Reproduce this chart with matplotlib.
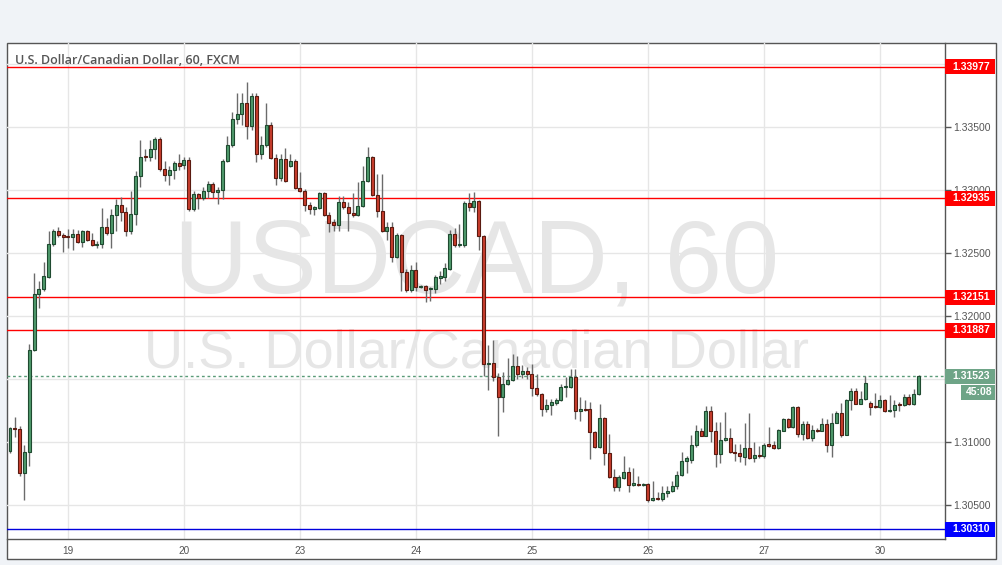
import numpy as np
import matplotlib
matplotlib.use("Agg")
import matplotlib.pyplot as plt
import matplotlib.transforms as mtransforms
from matplotlib.patches import Rectangle

# hourly candles USD/CAD (FXCM, 60)
opens = [1.30928, 1.31110, 1.31105, 1.30754, 1.30921, 1.31733, 1.32176, 1.32212, 1.32313, 1.32573,
         1.32676, 1.32644, 1.32630, 1.32628, 1.32652, 1.32586, 1.32676, 1.32605, 1.32565, 1.32573,
         1.32710, 1.32657, 1.32800, 1.32884, 1.32823, 1.32678, 1.32811, 1.33109, 1.33263, 1.33259,
         1.33326, 1.33405, 1.33167, 1.33120, 1.33159, 1.33215, 1.33199, 1.33241, 1.32850, 1.32969,
         1.32934, 1.32995, 1.33048, 1.32982, 1.33001, 1.33233, 1.33358, 1.33564, 1.33603, 1.33691,
         1.33505, 1.33749, 1.33286, 1.33358, 1.33516, 1.33255, 1.33096, 1.33247, 1.33191, 1.33233,
         1.33017, 1.32995, 1.32882, 1.32850, 1.32858, 1.32974, 1.32803, 1.32744, 1.32723, 1.32908,
         1.32863, 1.32818, 1.32803, 1.32876, 1.33075, 1.33265, 1.32961, 1.32831, 1.32673, 1.32710,
         1.32466, 1.32646, 1.32353, 1.32210, 1.32367, 1.32228, 1.32239, 1.32212, 1.32212, 1.32303,
         1.32308, 1.32374, 1.32652, 1.32565, 1.32565, 1.32898, 1.32863, 1.32916, 1.32638, 1.31621,
         1.31631, 1.31515, 1.31356, 1.31463, 1.31495, 1.31608, 1.31542, 1.31568, 1.31542, 1.31431,
         1.31383, 1.31264, 1.31296, 1.31312, 1.31336, 1.31436, 1.31436, 1.31515, 1.31245, 1.31264,
         1.31264, 1.31079, 1.30960, 1.31193, 1.30912, 1.30722, 1.30643, 1.30714, 1.30767, 1.30662,
         1.30669, 1.30662, 1.30669, 1.30543, 1.30555, 1.30548, 1.30598, 1.30611, 1.30650, 1.30741,
         1.30854, 1.30862, 1.30981, 1.31092, 1.31052, 1.31251, 1.31092, 1.30907, 1.31018, 1.31034,
         1.30926, 1.30915, 1.30880, 1.30955, 1.30875, 1.30902, 1.30888, 1.30986, 1.30979, 1.30952,
         1.31092, 1.31185, 1.31118, 1.31283, 1.31068, 1.31147, 1.31031, 1.31100, 1.31092, 1.31147,
         1.30981, 1.31155, 1.31230, 1.31060, 1.31338, 1.31409, 1.31307, 1.31344, 1.31312, 1.31285,
         1.31277, 1.31336, 1.31245, 1.31256, 1.31304, 1.31296, 1.31362, 1.31304, 1.31383]

highs = [1.31124, 1.31203, 1.31129, 1.30981, 1.31780, 1.32340, 1.32282, 1.32432, 1.32678, 1.32694,
         1.32710, 1.32662, 1.32691, 1.32691, 1.32683, 1.32683, 1.32683, 1.32660, 1.32597, 1.32855,
         1.32779, 1.32850, 1.32929, 1.32948, 1.32868, 1.32995, 1.33154, 1.33400, 1.33326, 1.33397,
         1.33418, 1.33418, 1.33233, 1.33194, 1.33233, 1.33286, 1.33259, 1.33265, 1.32995, 1.32977,
         1.33027, 1.33075, 1.33061, 1.33021, 1.33247, 1.33432, 1.33616, 1.33767, 1.33767, 1.33860,
         1.33767, 1.33767, 1.33432, 1.33688, 1.33542, 1.33286, 1.33286, 1.33334, 1.33286, 1.33247,
         1.33140, 1.33009, 1.32903, 1.32876, 1.32982, 1.32982, 1.32823, 1.32771, 1.32956, 1.32956,
         1.32908, 1.32974, 1.33061, 1.33194, 1.33339, 1.33273, 1.33128, 1.33128, 1.32744, 1.32744,
         1.32660, 1.32652, 1.32374, 1.32409, 1.32427, 1.32246, 1.32247, 1.32234, 1.32327, 1.32361,
         1.32422, 1.32683, 1.32700, 1.32731, 1.32916, 1.32974, 1.32982, 1.32922, 1.32646, 1.31774,
         1.31811, 1.31549, 1.31555, 1.31667, 1.31703, 1.31687, 1.31616, 1.31594, 1.31620, 1.31542,
         1.31393, 1.31344, 1.31344, 1.31354, 1.31463, 1.31515, 1.31582, 1.31582, 1.31356, 1.31338,
         1.31317, 1.31088, 1.31304, 1.31199, 1.31068, 1.30788, 1.30741, 1.30894, 1.30806, 1.30800,
         1.30735, 1.30680, 1.30676, 1.30696, 1.30603, 1.30650, 1.30650, 1.30696, 1.30775, 1.30926,
         1.30894, 1.31060, 1.31140, 1.31114, 1.31290, 1.31290, 1.31163, 1.31163, 1.31243, 1.31110,
         1.30987, 1.30987, 1.31150, 1.31229, 1.31005, 1.30973, 1.30997, 1.31124, 1.31013, 1.31108,
         1.31193, 1.31191, 1.31290, 1.31290, 1.31171, 1.31171, 1.31140, 1.31116, 1.31195, 1.31187,
         1.31235, 1.31251, 1.31312, 1.31344, 1.31430, 1.31430, 1.31409, 1.31528, 1.31325, 1.31391,
         1.31378, 1.31346, 1.31375, 1.31338, 1.31322, 1.31383, 1.31383, 1.31423, 1.31530]

lows = [1.30913, 1.31039, 1.30733, 1.30543, 1.30815, 1.31727, 1.32062, 1.32202, 1.32300, 1.32554,
        1.32625, 1.32506, 1.32538, 1.32525, 1.32578, 1.32546, 1.32599, 1.32559, 1.32538, 1.32538,
        1.32641, 1.32538, 1.32673, 1.32752, 1.32633, 1.32652, 1.32726, 1.33021, 1.33233, 1.33228,
        1.33247, 1.33154, 1.33075, 1.33041, 1.33088, 1.33159, 1.33167, 1.32837, 1.32834, 1.32850,
        1.32924, 1.32934, 1.32934, 1.32894, 1.32929, 1.33225, 1.33344, 1.33524, 1.33516, 1.33405,
        1.33480, 1.33225, 1.33247, 1.33344, 1.33249, 1.33043, 1.33069, 1.33063, 1.33186, 1.33011,
        1.32982, 1.32837, 1.32811, 1.32803, 1.32853, 1.32797, 1.32665, 1.32678, 1.32678, 1.32853,
        1.32673, 1.32789, 1.32797, 1.32868, 1.33067, 1.32956, 1.32784, 1.32670, 1.32607, 1.32427,
        1.32460, 1.32198, 1.32190, 1.32194, 1.32202, 1.32222, 1.32110, 1.32118, 1.32181, 1.32255,
        1.32276, 1.32369, 1.32551, 1.32551, 1.32551, 1.32831, 1.32829, 1.32528, 1.31528, 1.31415,
        1.31489, 1.31047, 1.31237, 1.31457, 1.31489, 1.31502, 1.31507, 1.31502, 1.31370, 1.31370,
        1.31211, 1.31237, 1.31219, 1.31298, 1.31330, 1.31362, 1.31433, 1.31185, 1.31166, 1.31251,
        1.30868, 1.30953, 1.30953, 1.30820, 1.30715, 1.30616, 1.30616, 1.30708, 1.30603, 1.30656,
        1.30656, 1.30656, 1.30529, 1.30537, 1.30541, 1.30537, 1.30569, 1.30604, 1.30628, 1.30735,
        1.30759, 1.30838, 1.30965, 1.31047, 1.31047, 1.31005, 1.30801, 1.30838, 1.31013, 1.30914,
        1.30854, 1.30846, 1.30820, 1.30870, 1.30846, 1.30876, 1.30876, 1.30960, 1.30945, 1.30945,
        1.31092, 1.31112, 1.31112, 1.31039, 1.31018, 1.31025, 1.31013, 1.31084, 1.31092, 1.30920,
        1.30880, 1.31151, 1.31044, 1.31060, 1.31258, 1.31302, 1.31302, 1.31338, 1.31216, 1.31271,
        1.31271, 1.31239, 1.31239, 1.31203, 1.31251, 1.31290, 1.31298, 1.31298, 1.31378]

closes = [1.31110, 1.31102, 1.30754, 1.30926, 1.31733, 1.32176, 1.32216, 1.32319, 1.32573, 1.32676,
          1.32644, 1.32628, 1.32628, 1.32652, 1.32586, 1.32676, 1.32605, 1.32562, 1.32573, 1.32710,
          1.32657, 1.32805, 1.32884, 1.32823, 1.32678, 1.32811, 1.33114, 1.33259, 1.33259, 1.33326,
          1.33405, 1.33167, 1.33120, 1.33159, 1.33215, 1.33194, 1.33241, 1.32850, 1.32969, 1.32934,
          1.32995, 1.33048, 1.32982, 1.33001, 1.33233, 1.33358, 1.33564, 1.33603, 1.33691, 1.33505,
          1.33749, 1.33286, 1.33358, 1.33516, 1.33255, 1.33096, 1.33247, 1.33069, 1.33233, 1.33017,
          1.32990, 1.32882, 1.32850, 1.32863, 1.32974, 1.32803, 1.32739, 1.32723, 1.32908, 1.32863,
          1.32818, 1.32803, 1.32876, 1.33075, 1.33265, 1.32961, 1.32831, 1.32678, 1.32710, 1.32466,
          1.32646, 1.32349, 1.32210, 1.32367, 1.32228, 1.32239, 1.32210, 1.32220, 1.32308, 1.32316,
          1.32379, 1.32652, 1.32565, 1.32573, 1.32898, 1.32863, 1.32916, 1.32638, 1.31621, 1.31631,
          1.31517, 1.31356, 1.31463, 1.31495, 1.31608, 1.31542, 1.31568, 1.31542, 1.31431, 1.31383,
          1.31264, 1.31296, 1.31317, 1.31338, 1.31441, 1.31441, 1.31515, 1.31245, 1.31264, 1.31259,
          1.31079, 1.30960, 1.31193, 1.30912, 1.30722, 1.30643, 1.30722, 1.30767, 1.30662, 1.30674,
          1.30662, 1.30669, 1.30543, 1.30555, 1.30548, 1.30598, 1.30616, 1.30656, 1.30741, 1.30854,
          1.30872, 1.30981, 1.31092, 1.31052, 1.31251, 1.31092, 1.30907, 1.31021, 1.31034, 1.30920,
          1.30913, 1.30888, 1.30955, 1.30875, 1.30899, 1.30888, 1.30981, 1.30973, 1.30952, 1.31100,
          1.31185, 1.31118, 1.31283, 1.31068, 1.31147, 1.31031, 1.31100, 1.31092, 1.31147, 1.30981,
          1.31155, 1.31230, 1.31060, 1.31338, 1.31409, 1.31307, 1.31344, 1.31471, 1.31283, 1.31277,
          1.31336, 1.31245, 1.31259, 1.31298, 1.31296, 1.31362, 1.31304, 1.31383, 1.31523]

# day labels and the candle they fall on
day_labels = ["19", "20", "23", "24", "25", "26", "27", "30"]
day_index = [12, 36, 60, 84, 108, 132, 156, 180]

# price scale: grid every 0.005, labels only where not hidden by a tag
grid_prices = [1.305, 1.310, 1.315, 1.320, 1.325, 1.330, 1.335, 1.340]
shown_labels = ["1.30500", "1.31000", "", "1.32000", "1.32500", "1.33000", "1.33500", ""]

# horizontal levels drawn on the chart
red_levels = [1.33977, 1.32935, 1.32151, 1.31887]
blue_level = 1.30310
last_price = 1.31523
countdown = "45:08"

W, H = 1002, 565
fig = plt.figure(figsize=(W / 100, H / 100), dpi=100)
fig.patch.set_facecolor("#f0f3f7")

# outer frame
frame = Rectangle((7 / W, (H - 559) / H), (996 - 7) / W, (559 - 43) / H,
                  transform=fig.transFigure, facecolor="white", edgecolor="#555555",
                  linewidth=1, zorder=-1)
fig.patches.append(frame)

ax = fig.add_axes([7 / W, 26 / H, 938 / W, 496 / H])
ax.patch.set_facecolor("none")

step = 4.833  # px per candle
ax.set_xlim(-3 / step, -3 / step + 938 / step)
ax.set_ylim(1.30233, 1.34167)

o = np.array(opens)
h = np.array(highs)
l = np.array(lows)
c = np.array(closes)
x = np.arange(len(o))
up = c >= o

# watermark
ax.text(476 / W, 1 - 293 / H, "USDCAD, 60", transform=fig.transFigure, ha="center",
        va="baseline", fontsize=74, color="#e6e6e6", family="Liberation Sans", zorder=0)
ax.text(476 / W, 1 - 368 / H, "U.S. Dollar/Canadian Dollar", transform=fig.transFigure,
        ha="center", va="baseline", fontsize=39, color="#e6e6e6", family="Liberation Sans",
        zorder=0)

# candles
ax.vlines(x, l, h, color="#6b6b6b", linewidth=1, zorder=3)
body = np.maximum(np.abs(c - o), 0.00008)
bottom = np.minimum(o, c)
ax.bar(x[up], body[up], bottom=bottom[up], width=0.62, color="#4f9a6c",
       edgecolor="#1f4a30", linewidth=0.8, zorder=4)
ax.bar(x[~up], body[~up], bottom=bottom[~up], width=0.62, color="#c93d2d",
       edgecolor="#5a1a10", linewidth=0.8, zorder=4)

# level lines
for lv in red_levels:
    ax.axhline(lv, color="#ff0000", linewidth=1, zorder=2)
ax.axhline(blue_level, color="#0000dd", linewidth=1, zorder=2)
ax.axhline(last_price, color="#5a9b78", linewidth=1, dashes=(2, 2), zorder=2)

# grid / axes
ax.set_xticks(day_index)
ax.set_xticklabels(day_labels)
ax.set_yticks(grid_prices)
ax.set_yticklabels(shown_labels)
ax.yaxis.tick_right()
ax.grid(True, color="#e6e6e6", linewidth=1, zorder=0)
ax.set_axisbelow(True)
ax.tick_params(axis="y", length=4, width=1, color="#555555", labelcolor="#555555",
               labelsize=7.5, pad=2)
ax.tick_params(axis="x", length=0, labelcolor="#555555", labelsize=7.2, pad=5)
for lab in ax.get_xticklabels() + ax.get_yticklabels():
    lab.set_family("Liberation Sans")
for s in ["left", "top"]:
    ax.spines[s].set_visible(False)
for s in ["right", "bottom"]:
    ax.spines[s].set_color("#555555")
    ax.spines[s].set_linewidth(1)

# price tags on the right axis
tr = mtransforms.blended_transform_factory(fig.transFigure, ax.transData)
box_h = 15 / 12607


def tag(y, text, color, x0=945, x1=995):
    ax.add_patch(Rectangle((x0 / W, y - box_h / 2), (x1 - x0) / W, box_h, transform=tr,
                           facecolor=color, edgecolor="none", clip_on=False, zorder=6))
    ax.text((x0 + x1) / 2 / W + 1 / W, y, text, transform=tr, ha="center", va="center",
            fontsize=7.5, color="white", weight="bold", family="Liberation Sans",
            zorder=7, clip_on=False)


for lv in red_levels:
    tag(lv, "%.5f" % lv, "#ff0000")
tag(blue_level, "%.5f" % blue_level, "#0000ff")
tag(last_price, "%.5f" % last_price, "#6ea487")
tag(last_price - 16 / 12607, countdown, "#6ea487", x0=961)

fig.text(15 / W, 1 - 61 / H, "U.S. Dollar/Canadian Dollar, 60, FXCM", ha="left",
         va="center", fontsize=9, color="#555555", weight="semibold", family="Open Sans")

fig.savefig("out.png", dpi=100, facecolor=fig.get_facecolor())
